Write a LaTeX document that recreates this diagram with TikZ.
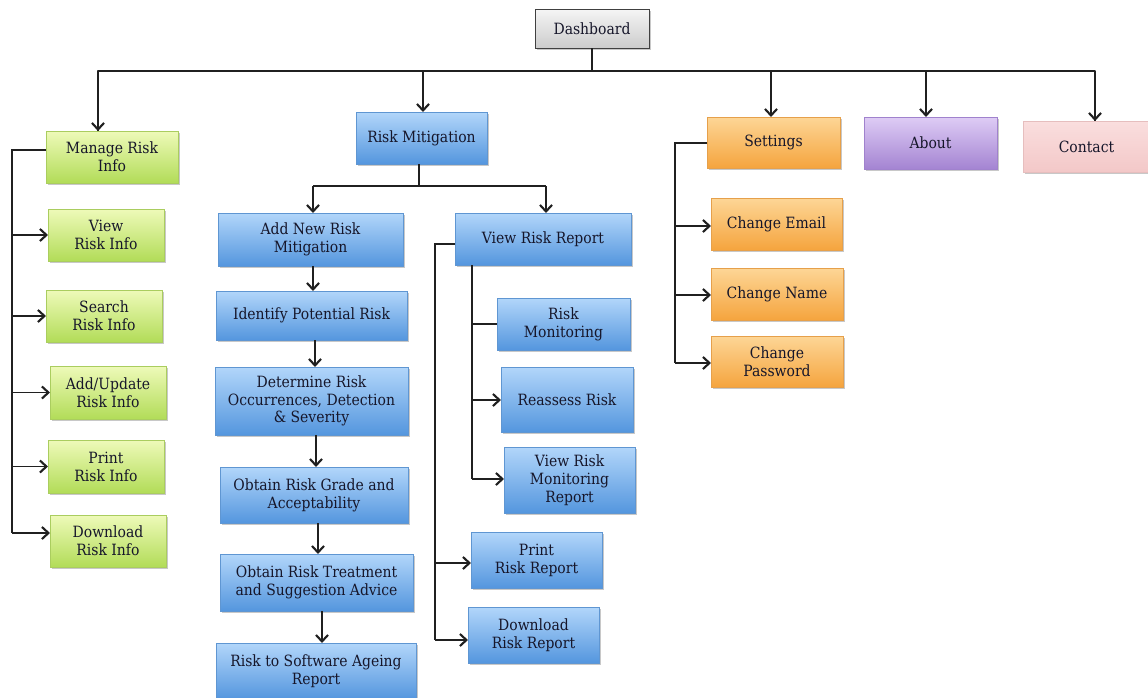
\documentclass[tikz,border=0pt]{standalone}
\usepackage{fontspec}
\setmainfont{DejaVu Serif Condensed}
\usetikzlibrary{arrows.meta,shadows}
\definecolor{txt}{HTML}{16162A}
\definecolor{ln}{HTML}{202020}
\tikzset{
  box/.style={rectangle, inner sep=0pt, outer sep=0pt, align=center, text=txt,
    font=\fontsize{15.5}{17.8}\selectfont, line width=0.5pt,
    drop shadow={shadow xshift=1.8pt, shadow yshift=-2pt, opacity=0.3, fill=black!70}},
  dbox/.style={box, draw=black!75, line width=1pt, top color=white!96!black, bottom color=black!20},
  gbox/.style={box, draw={rgb,255:red,170;green,205;blue,95}, top color={rgb,255:red,238;green,250;blue,185}, bottom color={rgb,255:red,178;green,220;blue,88}},
  bbox/.style={box, draw={rgb,255:red,95;green,150;blue,210}, top color={rgb,255:red,178;green,214;blue,250}, bottom color={rgb,255:red,84;green,150;blue,222}},
  obox/.style={box, draw={rgb,255:red,230;green,160;blue,75}, top color={rgb,255:red,253;green,214;blue,150}, bottom color={rgb,255:red,245;green,164;blue,62}},
  pbox/.style={box, draw={rgb,255:red,160;green,130;blue,205}, top color={rgb,255:red,222;green,204;blue,245}, bottom color={rgb,255:red,164;green,132;blue,210}},
  kbox/.style={box, draw={rgb,255:red,230;green,190;blue,190}, top color={rgb,255:red,250;green,222;blue,222}, bottom color={rgb,255:red,243;green,200;blue,200}},
  conn/.style={draw=ln, line width=1.4pt},
  arr/.style={conn, -{Straight Barb[length=6.5pt,width=12pt,line width=2.1pt]}},
}
\newcommand\mybox[7]{%
  \node[#1, minimum width={#5pt-#3pt}, minimum height={#6pt-#4pt}] (#2) at ({(#3+#5)/2},{(#4+#6)/2}) {#7};}
\begin{document}
\begin{tikzpicture}[x=1pt,y=-1pt]
\useasboundingbox[fill=white] (0,0) rectangle (1148,697);
% boxes
\mybox{dbox}{dash}{535}{9}{649}{48}{Dashboard}
\mybox{gbox}{mri}{46}{131}{178}{183}{Manage Risk\\Info}
\mybox{gbox}{vri}{48}{209}{164}{261}{View\\Risk Info}
\mybox{gbox}{sri}{46}{290}{162}{342}{Search\\Risk Info}
\mybox{gbox}{ari}{50}{366}{166}{419}{Add/Update\\Risk Info}
\mybox{gbox}{pri}{48}{440}{164}{493}{Print\\Risk Info}
\mybox{gbox}{dri}{50}{515}{166}{567}{Download\\Risk Info}
\mybox{bbox}{rm}{356}{112}{487}{164}{Risk Mitigation}
\mybox{bbox}{anr}{218}{213}{403}{266}{Add New Risk\\Mitigation}
\mybox{bbox}{ipr}{216}{291}{407}{340}{Identify Potential Risk}
\mybox{bbox}{drk}{215}{367}{408}{435}{Determine Risk\\Occurrences, Detection\\\& Severity}
\mybox{bbox}{org}{220}{467}{408}{523}{Obtain Risk Grade and\\Acceptability}
\mybox{bbox}{ort}{220}{554}{413}{611}{Obtain Risk Treatment\\and Suggestion Advice}
\mybox{bbox}{rsa}{216}{643}{416}{699}{Risk to Software Ageing\\Report}
\mybox{bbox}{vrr}{455}{213}{631}{265}{View Risk Report}
\mybox{bbox}{rmo}{497}{298}{630}{350}{Risk\\Monitoring}
\mybox{bbox}{rar}{501}{367}{633}{432}{Reassess Risk}
\mybox{bbox}{vrm}{504}{447}{635}{513}{View Risk\\Monitoring\\Report}
\mybox{bbox}{prr}{471}{532}{602}{588}{Print\\Risk Report}
\mybox{bbox}{drr}{468}{607}{599}{663}{Download\\Risk Report}
\mybox{obox}{set}{707}{117}{840}{168}{Settings}
\mybox{obox}{cem}{711}{198}{842}{250}{Change Email}
\mybox{obox}{cna}{711}{268}{843}{320}{Change Name}
\mybox{obox}{cpw}{711}{336}{843}{387}{Change\\Password}
\mybox{pbox}{abt}{864}{117}{997}{169}{About}
\mybox{kbox}{con}{1023}{121}{1150}{172}{Contact}
% top bus
\coordinate (busL) at (98,71);
\coordinate (busR) at (1095,71);
\coordinate (busA) at (926,71);
\coordinate (busS) at (771,71);
\coordinate (busM) at (423,71);
\draw[conn] (dash.south) -- (dash.south |- busL);
\draw[conn, line join=round] (busL |- mri.north) -- (busL) -- (busR) -- (busR |- con.north);
\draw[arr] (busL) -- (busL |- mri.north);
\draw[arr] (busM) -- (busM |- rm.north);
\draw[arr] (busS) -- (busS |- set.north);
\draw[arr] (busA) -- (busA |- abt.north);
\draw[arr] (busR) -- (busR |- con.north);
% left column
\coordinate (lt) at (12,150);
\coordinate (lb) at (12,533);
\draw[conn] (mri.west |- lt) -- (lt) -- (lb);
\draw[arr] (lt |- vri.west) -- (vri.west);
\draw[arr] (lt |- sri.west) -- (sri.west);
\draw[arr] (lt |- ari.west) -- (ari.west);
\draw[arr] (lt |- pri.west) -- (pri.west);
\draw[arr] (lb) -- (lb -| dri.west);
% risk mitigation split
\coordinate (mj) at (419,186);
\coordinate (mjl) at (313,186);
\coordinate (mjr) at (546,186);
\draw[conn] (mj |- rm.south) -- (mj);
\draw[conn] (mjl) -- (mjr);
\draw[arr] (mjl) -- (mjl |- anr.north);
\draw[arr] (mjr) -- (mjr |- vrr.north);
% chain
\coordinate (c1) at (313,266);
\coordinate (c2) at (315,340);
\coordinate (c3) at (316,435);
\coordinate (c4) at (318,523);
\coordinate (c5) at (322,611);
\draw[arr] (c1) -- (c1 |- ipr.north);
\draw[arr] (c2) -- (c2 |- drk.north);
\draw[arr] (c3) -- (c3 |- org.north);
\draw[arr] (c4) -- (c4 |- ort.north);
\draw[arr] (c5) -- (c5 |- rsa.north);
% view risk report outer
\coordinate (vo) at (435,244);
\coordinate (vop) at (435,563);
\coordinate (vod) at (435,640);
\draw[conn] (vrr.west |- vo) -- (vo) -- (vod);
\draw[arr] (vop) -- (vop -| prr.west);
\draw[arr] (vod) -- (vod -| drr.west);
% view risk report inner
\coordinate (vi) at (472,265);
\coordinate (vim) at (472,324);
\coordinate (vir) at (472,400);
\coordinate (viv) at (472,479);
\draw[conn] (vi) -- (viv);
\draw[conn] (vim) -- (vim -| rmo.west);
\draw[arr] (vir) -- (vir -| rar.west);
\draw[arr] (viv) -- (viv -| vrm.west);
% settings
\coordinate (sl) at (675,143);
\coordinate (s1) at (675,226);
\coordinate (s2) at (675,295);
\coordinate (s3) at (675,363);
\draw[conn] (set.west |- sl) -- (sl) -- (s3);
\draw[arr] (s1) -- (s1 -| cem.west);
\draw[arr] (s2) -- (s2 -| cna.west);
\draw[arr] (s3) -- (s3 -| cpw.west);
\end{tikzpicture}
\end{document}
